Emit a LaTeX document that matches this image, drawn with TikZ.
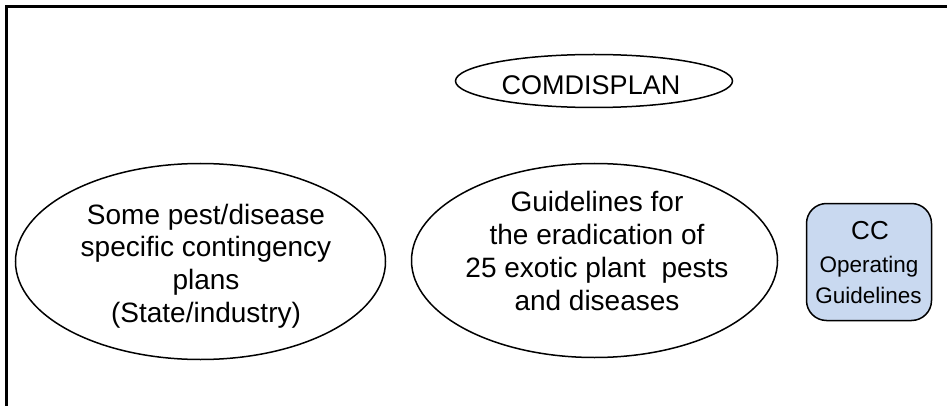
\documentclass[tikz,border=0pt]{standalone}
\usepackage{fontspec}
\setmainfont{Liberation Sans}
\usetikzlibrary{shapes.geometric}
\definecolor{ccfill}{RGB}{201,217,240}
\begin{document}
\begin{tikzpicture}[x=1pt,y=-1pt,
  ell/.style={draw=black, line width=1.5pt, ellipse, inner sep=0pt},
  txt/.style={align=center, inner sep=0pt, font=\fontsize{28}{32.7}\selectfont},
  ccbox/.style={draw=black, line width=1.5pt, fill=ccfill, rounded corners=20pt, rectangle, inner sep=0pt},
  cctxt/.style={anchor=base, inner sep=0pt}]
\useasboundingbox (0,0) rectangle (947,406);
\fill[white] (0,0) rectangle (947,406);
% frame
\draw[line width=2.2pt] (6.5,406) |- (947,6.5);
% COMDISPLAN
\node[ell, minimum width=277pt, minimum height=53pt] (comd) at (594,81) {};
\node[txt, font=\fontsize{27}{30}\selectfont] (comdText) at (591,85.5) {COMDISPLAN};
% left ellipse
\node[ell, minimum width=370pt, minimum height=196pt] (pests) at (200.5,261.5) {};
\node[txt] (pestsText) at (206,265.9) {Some pest/disease\\specific contingency\\plans\\(State/industry)};
% middle ellipse
\node[ell, minimum width=366pt, minimum height=194pt] (guide) at (594.5,260.5) {};
\node[txt] (guideText) at (597,251) {Guidelines for~\\the eradication of\\25 exotic plant~~pests\\and diseases};
% CC box
\node[ccbox, minimum width=125pt, minimum height=117pt] (cc) at (869,262) {};
\node[cctxt, font=\fontsize{26}{26}\selectfont] (ccA) at (870,239) {CC};
\node[cctxt, font=\fontsize{22.5}{27}\selectfont] (ccB) at (869,272) {Operating};
\node[cctxt, font=\fontsize{22.5}{27}\selectfont] (ccC) at (868.5,303) {Guidelines};
\end{tikzpicture}
\end{document}
